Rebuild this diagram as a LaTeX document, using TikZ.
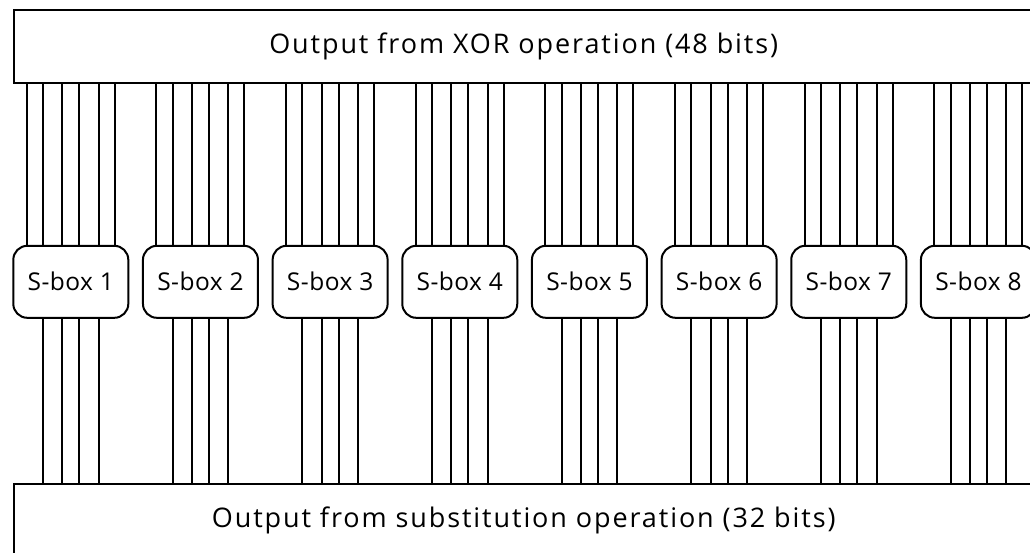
\documentclass[tikz,border=0pt]{standalone}
\usepackage{fontspec}
\setmainfont{Open Sans}
\newfontfamily\widesans[LetterSpace=7]{Open Sans}
\newfontfamily\boxsans[LetterSpace=2]{Open Sans}
\begin{document}
\begin{tikzpicture}[x=1pt,y=-1pt,
  wire/.style={line width=2pt},
  bigbox/.style={draw,line width=2pt,minimum width=1020pt,minimum height=73pt,inner sep=0pt,
    font=\widesans\fontsize{27}{30}\selectfont},
  sbox/.style={draw,line width=2pt,rounded corners=14pt,minimum width=115pt,minimum height=72pt,
    inner sep=0pt,fill=white,font=\boxsans\fontsize{24.5}{28}\selectfont}]
\useasboundingbox (0,0) rectangle (1030,552);
\clip (0,0) rectangle (1030,552);
\fill[white] (0,0) rectangle (1030,552);

% input and output registers
\node[bigbox,anchor=north west] (xor) at (12.7,9) {Output from XOR operation (48 bits)};
\node[bigbox,anchor=north west] (sub) at (12.7,482.7) {Output from substitution operation (32 bits)};

% the eight substitution boxes
\foreach \i in {1,...,8}{
  \node[sbox] (s\i) at ({70.8+(\i-1)*129.66},281.8) {S-box \i};
}

% six input bits and four output bits per S-box
\foreach \i in {1,...,8}{
  \foreach \o [count=\j] in {-44,-27.8,-8.5,8.5,27.8,44}{
    \coordinate (t\i\j) at ([xshift=\o pt]s\i.north);
    \draw[wire] (t\i\j) -- (t\i\j |- xor.south);
  }
  \foreach \o [count=\j] in {-27.8,-8.5,8.5,27.8}{
    \coordinate (b\i\j) at ([xshift=\o pt]s\i.south);
    \draw[wire] (b\i\j) -- (b\i\j |- sub.north);
  }
}
\end{tikzpicture}
\end{document}
